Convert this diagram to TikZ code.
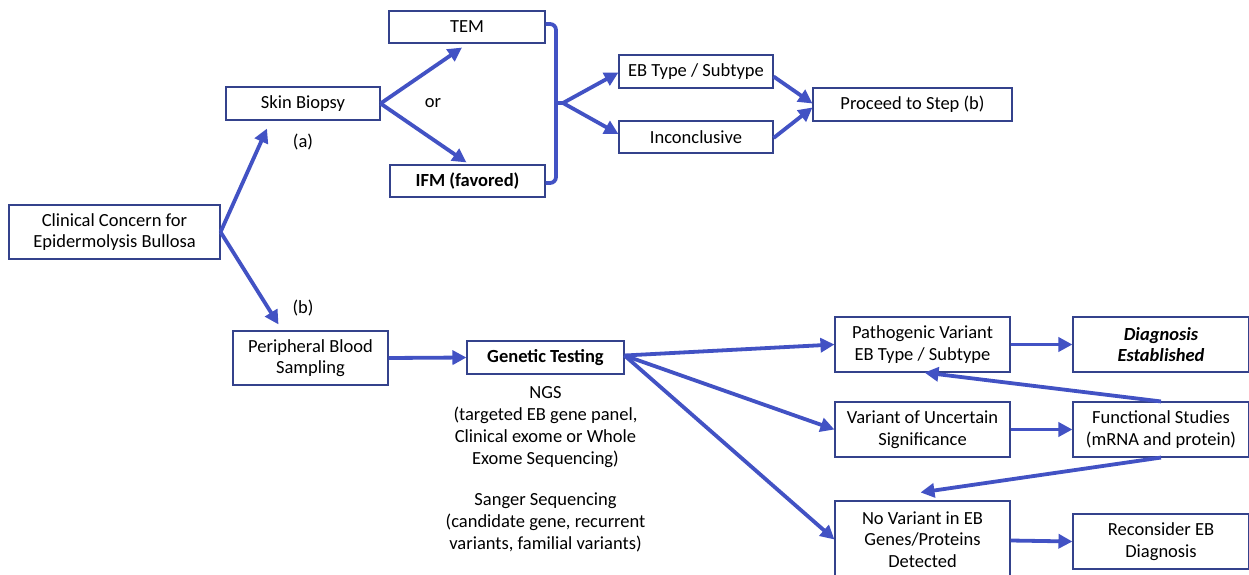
\documentclass[tikz,border=0pt]{standalone}
\usepackage{fontspec}
\setmainfont{Carlito}
\usetikzlibrary{arrows.meta,calc}
\definecolor{arrblue}{RGB}{66,82,196}
\definecolor{boxblue}{RGB}{52,66,140}
\begin{document}
\begin{tikzpicture}[x=1pt,y=-1pt,
 box/.style={draw=boxblue,line width=1.1pt,fill=white,inner sep=0pt,align=center,font=\fontsize{18.5}{21.5}\selectfont},
 arr/.style={draw=arrblue,line width=3.8pt,-{Triangle[length=14pt,width=14pt]}},
 brk/.style={draw=arrblue,line width=3.8pt},
 lbl/.style={font=\fontsize{18.5}{21.5}\selectfont,align=center,inner sep=0pt}]
\useasboundingbox (0,0) rectangle (1249,575);
\fill[white] (0,0) rectangle (1249,575);

% nodes
\node[box,minimum width=211pt,minimum height=54pt] (CC) at (114.5,232) {Clinical Concern for\\Epidermolysis Bullosa};
\node[box,minimum width=154pt,minimum height=33pt] (SB) at (303,103.5) {Skin Biopsy};
\node[box,minimum width=156pt,minimum height=32pt] (TEM) at (467,27) {TEM};
\node[box,minimum width=155pt,minimum height=32pt] (IFM) at (467.5,181) {\textbf{IFM (favored)}};
\node[box,minimum width=154pt,minimum height=33pt] (EB) at (696,71.5) {EB Type / Subtype};
\node[box,minimum width=154pt,minimum height=32pt] (INC) at (696,137) {Inconclusive};
\node[box,minimum width=199pt,minimum height=33pt] (PS) at (912.5,104.5) {Proceed to Step (b)};
\node[box,minimum width=155pt,minimum height=54pt] (PB) at (310.5,358) {Peripheral Blood\\Sampling};
\node[box,minimum width=157pt,minimum height=33pt] (GT) at (545.5,357.5) {\textbf{Genetic Testing}};
\node[box,minimum width=175pt,minimum height=55pt] (PV) at (922.5,344.5) {Pathogenic Variant\\EB Type / Subtype};
\node[box,minimum width=176pt,minimum height=55pt] (DE) at (1161,344.5) {\textbf{\textit{Diagnosis}}\\\textbf{\textit{Established}}};
\node[box,minimum width=175pt,minimum height=55pt] (VUS) at (922.5,429.5) {Variant of Uncertain\\Significance};
\node[box,minimum width=176pt,minimum height=55pt] (FS) at (1161,429.5) {Functional Studies\\(mRNA and protein)};
\node[box,minimum width=175pt,minimum height=77pt] (NV) at (922.5,539.5) {No Variant in EB\\Genes/Proteins\\Detected};
\node[box,minimum width=176pt,minimum height=55pt] (RC) at (1161,541.5) {Reconsider EB\\Diagnosis};

% labels
\node[lbl] (la) at (303,142) {(a)};
\node[lbl] (lor) at (433,103) {or};
\node[lbl] (lb) at (303,308) {(b)};
\node[lbl,anchor=north,font=\fontsize{18.5}{21.9}\selectfont] (ngs) at (545.5,386.5) {NGS\\(targeted EB gene panel,\\Clinical exome or Whole\\Exome Sequencing)\\[19pt]Sanger Sequencing\\(candidate gene, recurrent\\variants, familial variants)};

% connectors
\draw[arr] (CC.east) -- ([xshift=-36pt,yshift=-8pt]SB.south);
\draw[arr] (CC.east) -- ([xshift=-32pt,yshift=6pt]PB.north);
\draw[arr] (SB.east) -- ([xshift=-5pt,yshift=-4pt]TEM.south);
\draw[arr] (SB.east) -- ([xshift=-1pt,yshift=2pt]IFM.north);
\coordinate (bm) at (556,103);
\coordinate (br) at (563,103);
\draw[brk,rounded corners=6pt] ([yshift=3pt]TEM.east) -- (556,24) -- (556,183) -- ([yshift=-2pt]IFM.east);
\draw[brk] (bm) -- (br);
\draw[arr] (br) -- ([yshift=-1pt]EB.west);
\draw[arr] (br) -- ([yshift=3pt]INC.west);
\draw[arr] ([yshift=-5pt]EB.east) -- ([yshift=1pt]PS.west);
\draw[arr] ([yshift=-1pt]INC.east) -- ([yshift=-3pt]PS.west);
\draw[arr] (PB.east) -- (GT.west);
\draw[arr] ([yshift=2pt]GT.east) -- (PV.west);
\draw[arr] ([yshift=2pt]GT.east) -- (VUS.west);
\draw[arr] ([yshift=2pt]GT.east) -- (NV.west);
\draw[arr] (PV.east) -- (DE.west);
\draw[arr] (VUS.east) -- (FS.west);
\draw[arr] ([yshift=-1pt]NV.east) -- (RC.west);
\draw[arr] (FS.north) -- ([xshift=2pt]PV.south);
\draw[arr] (FS.south) -- ([xshift=-2pt,yshift=8pt]NV.north);
\end{tikzpicture}
\end{document}
